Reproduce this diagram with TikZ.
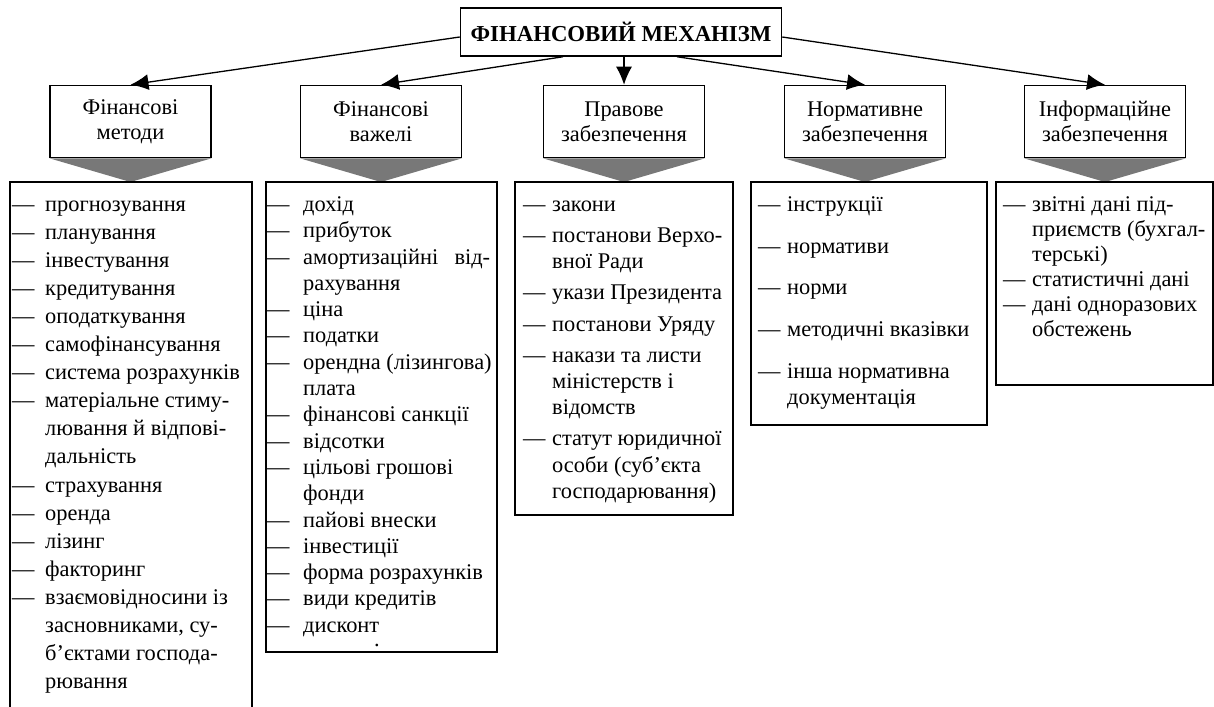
\documentclass[tikz,border=0pt]{standalone}
\usepackage{fontspec}
\setmainfont{Liberation Serif}
\usetikzlibrary{arrows.meta,positioning,backgrounds}
\tikzset{>={Latex[length=18pt,width=16pt]}}
\tikzset{
  mainbox/.style={draw, line width=1.5pt, minimum width=321pt, minimum height=48pt,
    inner sep=0pt, font=\fontsize{22.8}{26}\selectfont\bfseries},
  headbox/.style={draw, line width=1.5pt, minimum width=161pt, minimum height=72pt,
    align=center, inner sep=0pt, font=\fontsize{22.4}{25}\selectfont},
  lstframe/.style={draw, line width=1.5pt, anchor=north west, inner sep=0pt, outer sep=0pt},
  lsttext/.style={anchor=north west, inner sep=0pt, align=left,
    font=\fontsize{22.4}{#1}\selectfont},
  lsttext/.default=26.3,
  ind/.code={\setlength{\lstind}{#1}},
  chevron/.style={fill=black!53},
  link/.style={->, line width=1.3pt}
}
\newlength{\lstind}
\newcommand{\itm}{\strut\makebox[\lstind][l]{—}}
\newcommand{\cnt}{\hspace*{\lstind}}

\begin{document}
\begin{tikzpicture}[x=1pt,y=-1pt]
  \useasboundingbox (0,0) rectangle (1214,706);
  % top box
  \node[mainbox] (mech) at (621,32) {ФІНАНСОВИЙ МЕХАНІЗМ};
  % headers
  \node[headbox] (hmet) at (130.5,121.5) {Фінансові\\методи};
  \node[headbox] (hvaz) at (381,121.5) {Фінансові\\важелі};
  \node[headbox] (hprav) at (624,121.5) {Правове\\забезпечення};
  \node[headbox] (hnorm) at (865,121.5) {Нормативне\\забезпечення};
  \node[headbox] (hinf) at (1105,121.5) {Інформаційне\\забезпечення};
  % arrows
  \draw[link] ([yshift=-5pt]mech.west) -- (hmet.north);
  \draw[link] ([xshift=-58pt]mech.south) -- (hvaz.north);
  \draw[link] (mech.south -| hprav.north) -- (hprav.north);
  \draw[link] ([xshift=56pt]mech.south) -- (hnorm.north);
  \draw[link] ([yshift=-5pt]mech.east) -- (hinf.north);
  % list frames
  \node[lstframe, draw=none, minimum width=242pt, minimum height=526pt] (lmet) at (10,182) {};
  \draw[line width=1.5pt] (lmet.south west) -- (lmet.north west) -- (lmet.north east) -- (lmet.south east);
  \node[lstframe, minimum width=231pt, minimum height=470pt] (lvaz) at (266,182) {};
  \node[lstframe, minimum width=218pt, minimum height=333pt] (lprav) at (515,182) {};
  \node[lstframe, minimum width=236pt, minimum height=243pt] (lnorm) at (751,182) {};
  \node[lstframe, minimum width=217pt, minimum height=203pt] (linf) at (996,182) {};
  \begin{scope}[on background layer]
    \foreach \h/\l in {hmet/lmet, hvaz/lvaz, hprav/lprav, hnorm/lnorm, hinf/linf}
      \fill[chevron] (\h.south west) -- (\h.south east) -- (\h.south |- \l.north) -- cycle;
  \end{scope}
  % list texts
  \node[lsttext=28.06, ind=33pt] (tmet) at (12,191.6) {\itm прогнозування\\
    \itm планування\\
    \itm інвестування\\
    \itm кредитування\\
    \itm оподаткування\\
    \itm самофінансування\\
    \itm система розрахунків\\
    \itm матеріальне стиму-\\
    \cnt лювання й відпові-\\
    \cnt дальність\\
    \itm страхування\\
    \itm оренда\\
    \itm лізинг\\
    \itm факторинг\\
    \itm взаємовідносини із\\
    \cnt засновниками, су-\\
    \cnt б’єктами господа-\\
    \cnt рювання};
  \node[lsttext, ind=36pt] (tvaz) at (267,192.8) {\itm дохід\\
    \itm прибуток\\
    \itm \makebox[187pt][s]{амортизаційні від-}\\
    \cnt рахування\\
    \itm ціна\\
    \itm податки\\
    \itm орендна (лізингова)\\
    \cnt плата\\
    \itm фінансові санкції\\
    \itm відсотки\\
    \itm цільові грошові\\
    \cnt фонди\\
    \itm пайові внески\\
    \itm інвестиції\\
    \itm форма розрахунків\\
    \itm види кредитів\\
    \itm дисконт};
  \node[lsttext, anchor=base] (tvazdot) at (377,646) {.};
  \node[lsttext, ind=29pt] (tprav) at (523,192.8) {\itm закони\\[4.8pt]
    \itm постанови Верхо-\\
    \cnt вної Ради\\[4.8pt]
    \itm укази Президента\\[4.8pt]
    \itm постанови Уряду\\[4.8pt]
    \itm накази та листи\\
    \cnt міністерств і\\
    \cnt відомств\\[4.8pt]
    \itm статут юридичної\\
    \cnt особи (суб’єкта\\
    \cnt господарювання)};
  \node[lsttext, ind=29pt] (tnorm) at (758,192.8) {\itm інструкції\\[15.45pt]
    \itm нормативи\\[15.45pt]
    \itm норми\\[15.45pt]
    \itm методичні вказівки\\[15.45pt]
    \itm інша нормативна\\
    \cnt документація};
  \node[lsttext=25, ind=29pt] (tinf) at (1003,193.7) {\itm звітні дані під-\\
    \cnt приємств (бухгал-\\
    \cnt терські)\\
    \itm статистичні дані\\
    \itm дані одноразових\\
    \cnt обстежень};
\end{tikzpicture}
\end{document}
